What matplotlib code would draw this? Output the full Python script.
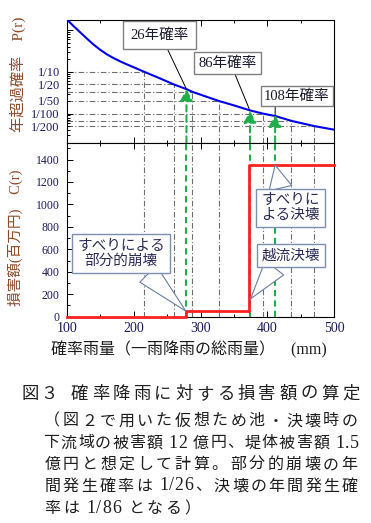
import matplotlib
matplotlib.use('Agg')
import matplotlib.pyplot as plt
from matplotlib.ticker import FixedLocator, FuncFormatter, MultipleLocator

plt.rcParams['font.family'] = ['Liberation Serif', 'Noto Sans CJK JP']

# ---------------- data ----------------
rain_mm = [100, 110, 120, 130, 140, 150, 160, 170, 180, 190, 200, 216, 240, 260,
           279, 287.5, 310, 327.5, 350, 374, 393, 412, 436, 470, 500]
exceed_prob = [1.82, 1.26, 0.891, 0.631, 0.452, 0.339, 0.263, 0.214, 0.178, 0.151,
               0.129, 0.1, 0.069, 0.05, 0.0385, 0.0333, 0.025, 0.02, 0.0157,
               0.0119, 0.01, 0.0087, 0.00667, 0.005, 0.0041]

grid_rain = [216, 260, 287.5, 327.5, 393, 436, 470]
grid_prob = [1/10, 1/20, 1/30, 1/50, 1/100, 1/150, 1/200]

event_rain = [279, 374, 411.5]
event_prob = [1/26, 1/86, 1/108]
event_labels = ['26年確率', '86年確率', '108年確率']

cost_edges = [100, 278, 372, 500]
cost_values = [0, 50, 1350]          # 百万円

prob_ticks = [0.1, 0.05, 0.02, 0.01, 0.005]
prob_ticklabels = ['1/10', '1/20', '1/50', '1/100', '1/200']
cost_ticks = [0, 200, 400, 600, 800, 1000, 1200, 1400]
rain_ticks = [100, 200, 300, 400, 500]

callout_texts = ['すべりによる\n部分的崩壊', 'すべりに\nよる決壊', '越流決壊']
callout_targets_x = [278, 411.5, 375]
callout_targets_y = [50, 1350, 160]

caption_title_a = '図３'
caption_title_b = '確率降雨に対する損害額の算定'
caption_lines = ['（図２で用いた仮想ため池・決壊時の',
                 '下流域の被害額 12 億円、堤体被害額 1.5',
                 '億円と想定して計算。部分的崩壊の年',
                 '間発生確率は 1/26、決壊の年間発生確',
                 '率は 1/86 となる）']

# ---------------- figure ----------------
WPX, HPX = 371, 523
fig = plt.figure(figsize=(WPX / 100, HPX / 100), dpi=100)

def fx(x):
    return x / WPX

def fy(y):
    return 1 - y / HPX

L, R = 66.7, 334.3
T1, M, B = 19.5, 142.7, 316.7
ax1 = fig.add_axes([fx(L), fy(M), fx(R) - fx(L), fy(T1) - fy(M)])
ax2 = fig.add_axes([fx(L), fy(B), fx(R) - fx(L), fy(M) - fy(B)])

tick_col = '#1a1a5e'
lab_col = '#8b4a2b'
grid_col = '#6e6e6e'
green = '#1fae4a'
dashdot = (0, (5, 2, 1, 2))

for ax in (ax1, ax2):
    ax.set_xlim(100, 500)
    for s in ax.spines.values():
        s.set_linewidth(0.8)
    ax.tick_params(which='both', direction='in', top=True, right=False,
                   colors='black', labelcolor=tick_col, width=0.7)
    ax.tick_params(which='major', length=4)
    ax.tick_params(which='minor', length=2)
    ax.xaxis.set_major_locator(FixedLocator(rain_ticks))
    ax.xaxis.set_minor_locator(MultipleLocator(50))

# ---- top panel ----
ax1.set_yscale('log')
ax1.set_ylim(0.002, 1.8)
ax1.yaxis.set_major_locator(FixedLocator([1, 0.1, 0.01]))
minor_locs = [m * d for d in (1e-3, 1e-2, 1e-1, 1) for m in range(2, 10)]
ax1.yaxis.set_minor_locator(FixedLocator(minor_locs))

def prob_fmt(v, pos):
    for t, l in zip(prob_ticks, prob_ticklabels):
        if abs(v - t) / t < 1e-6:
            return l
    return ''

ax1.yaxis.set_major_formatter(FuncFormatter(prob_fmt))
ax1.yaxis.set_minor_formatter(FuncFormatter(prob_fmt))
ax1.tick_params(axis='y', which='both', labelsize=9, pad=5)
ax1.tick_params(axis='x', which='both', labelbottom=False)

ax1.hlines(grid_prob, 100, grid_rain, colors=grid_col, linestyles=[dashdot], lw=0.8, zorder=1)
ax1.vlines(grid_rain, 0.002, grid_prob, colors=grid_col, linestyles=[dashdot], lw=0.8, zorder=1)
ax1.plot(rain_mm, exceed_prob, color='#0000ee', lw=1.5, zorder=3)

for xr, pr in zip(event_rain, event_prob):
    ax1.annotate('', xy=(xr, pr), xytext=(xr, 0.002),
                 arrowprops=dict(arrowstyle='-|>,head_length=0.7,head_width=0.38',
                                 color=green, lw=1.5, linestyle=(0, (3, 2)),
                                 shrinkA=0, shrinkB=0), zorder=4)

box_centers = [(159.3, 35.0), (227.3, 63.0), (297.0, 96.3)]
box_relx = [0.58, 0.6, 0.17]
box_pads = [0.5, 0.3, 0.22]
for lab, xr, pr, (cx, cy), rx, pd in zip(event_labels, event_rain, event_prob,
                                         box_centers, box_relx, box_pads):
    ax1.annotate(lab, xy=(xr, pr), xycoords='data',
                 xytext=(cx, HPX - cy), textcoords='figure pixels',
                 ha='center', va='center', fontsize=10.5, color='#1a1a2e',
                 bbox=dict(boxstyle=f'square,pad={pd}', fc='white', ec='#808080', lw=1.0),
                 arrowprops=dict(arrowstyle='-', color='black', lw=0.7,
                                 relpos=(rx, 0), shrinkA=0, shrinkB=0),
                 annotation_clip=False, zorder=6)

# ---- bottom panel ----
ax2.set_ylim(0, 1550)
ax2.yaxis.set_major_locator(FixedLocator(cost_ticks))
ax2.yaxis.set_minor_locator(MultipleLocator(100))
ax2.tick_params(axis='y', which='both', labelsize=8.5, pad=5)
ax2.tick_params(axis='x', which='both', labelsize=10, pad=4)

for xr in grid_rain:
    ax2.axvline(xr, color=grid_col, ls=dashdot, lw=0.8, zorder=1)
for xr in event_rain:
    ax2.axvline(xr, color=green, ls=(0, (3, 2)), lw=1.5, zorder=2)

ax2.step(cost_edges, cost_values + [cost_values[-1]], where='post',
         color='#ff2020', lw=2.0, zorder=3, clip_on=False)

co_centers = [(121.3, 253.8), (290.5, 207.8), (291.0, 255.5)]
co_rel = [(0.74, 0.0), (0.35, 1.0), (0.29, 0.0)]
for txt, tx, ty, (cx, cy), rp in zip(callout_texts, callout_targets_x, callout_targets_y,
                                     co_centers, co_rel):
    ax2.annotate(txt, xy=(tx, ty), xycoords='data',
                 xytext=(cx, HPX - cy), textcoords='figure pixels',
                 ha='center', va='center', fontsize=10.5, color='#2a2a55',
                 linespacing=1.2,
                 bbox=dict(boxstyle='square,pad=0.35', fc='white', ec='#7b8fae', lw=1.0),
                 arrowprops=dict(arrowstyle='wedge,tail_width=1.6', fc='white',
                                 ec='#6a7fa3', lw=0.8, relpos=rp, shrinkA=0, shrinkB=0),
                 annotation_clip=False, zorder=6)

# ---- axis labels ----
fig.text(fx(18), fy(74), '年超過確率　P(r)', rotation=90, ha='center', va='center',
         fontsize=11, color=lab_col)
fig.text(fx(15), fy(238), '損害額(百万円)　C(r)', rotation=90, ha='center', va='center',
         fontsize=10.5, color=lab_col)
fig.text(fx(189), fy(350), '確率雨量（一雨降雨の総雨量）　(mm)', ha='center', va='center',
         fontsize=11.5, color='#1a1a1a')

# ---- caption ----
cap_col = '#1e1e1e'

def weight(c):
    if c == ' ':
        return 0.3
    if c in './':
        return 0.3
    if ord(c) < 128:
        return 0.55
    return 1.0

def place(text, x0, y_base, x1=None, unit=None, size=10):
    ws = [weight(c) for c in text]
    if unit is None:
        unit = (x1 - x0) / sum(ws)
    x = x0
    for c, w in zip(text, ws):
        cw = w * unit
        if c != ' ':
            fs = size * 1.12 if ord(c) < 128 else size
            fig.text(fx(x + cw / 2), fy(y_base), c, ha='center', va='baseline',
                     fontsize=fs, color=cap_col)
        x += cw

place(caption_title_a, 21, 399, x1=58, size=12.5)
place(caption_title_b, 69, 399, x1=361, size=12.5)
line_y = [425.5, 447.5, 469, 490.5, 513]
for i, (ln, yb) in enumerate(zip(caption_lines, line_y)):
    if i < len(caption_lines) - 1:
        place(ln, 43, yb, x1=359, size=11.5)
    else:
        place(ln, 43, yb, unit=18.5, size=11.5)

fig.savefig('out.png', dpi=100)
